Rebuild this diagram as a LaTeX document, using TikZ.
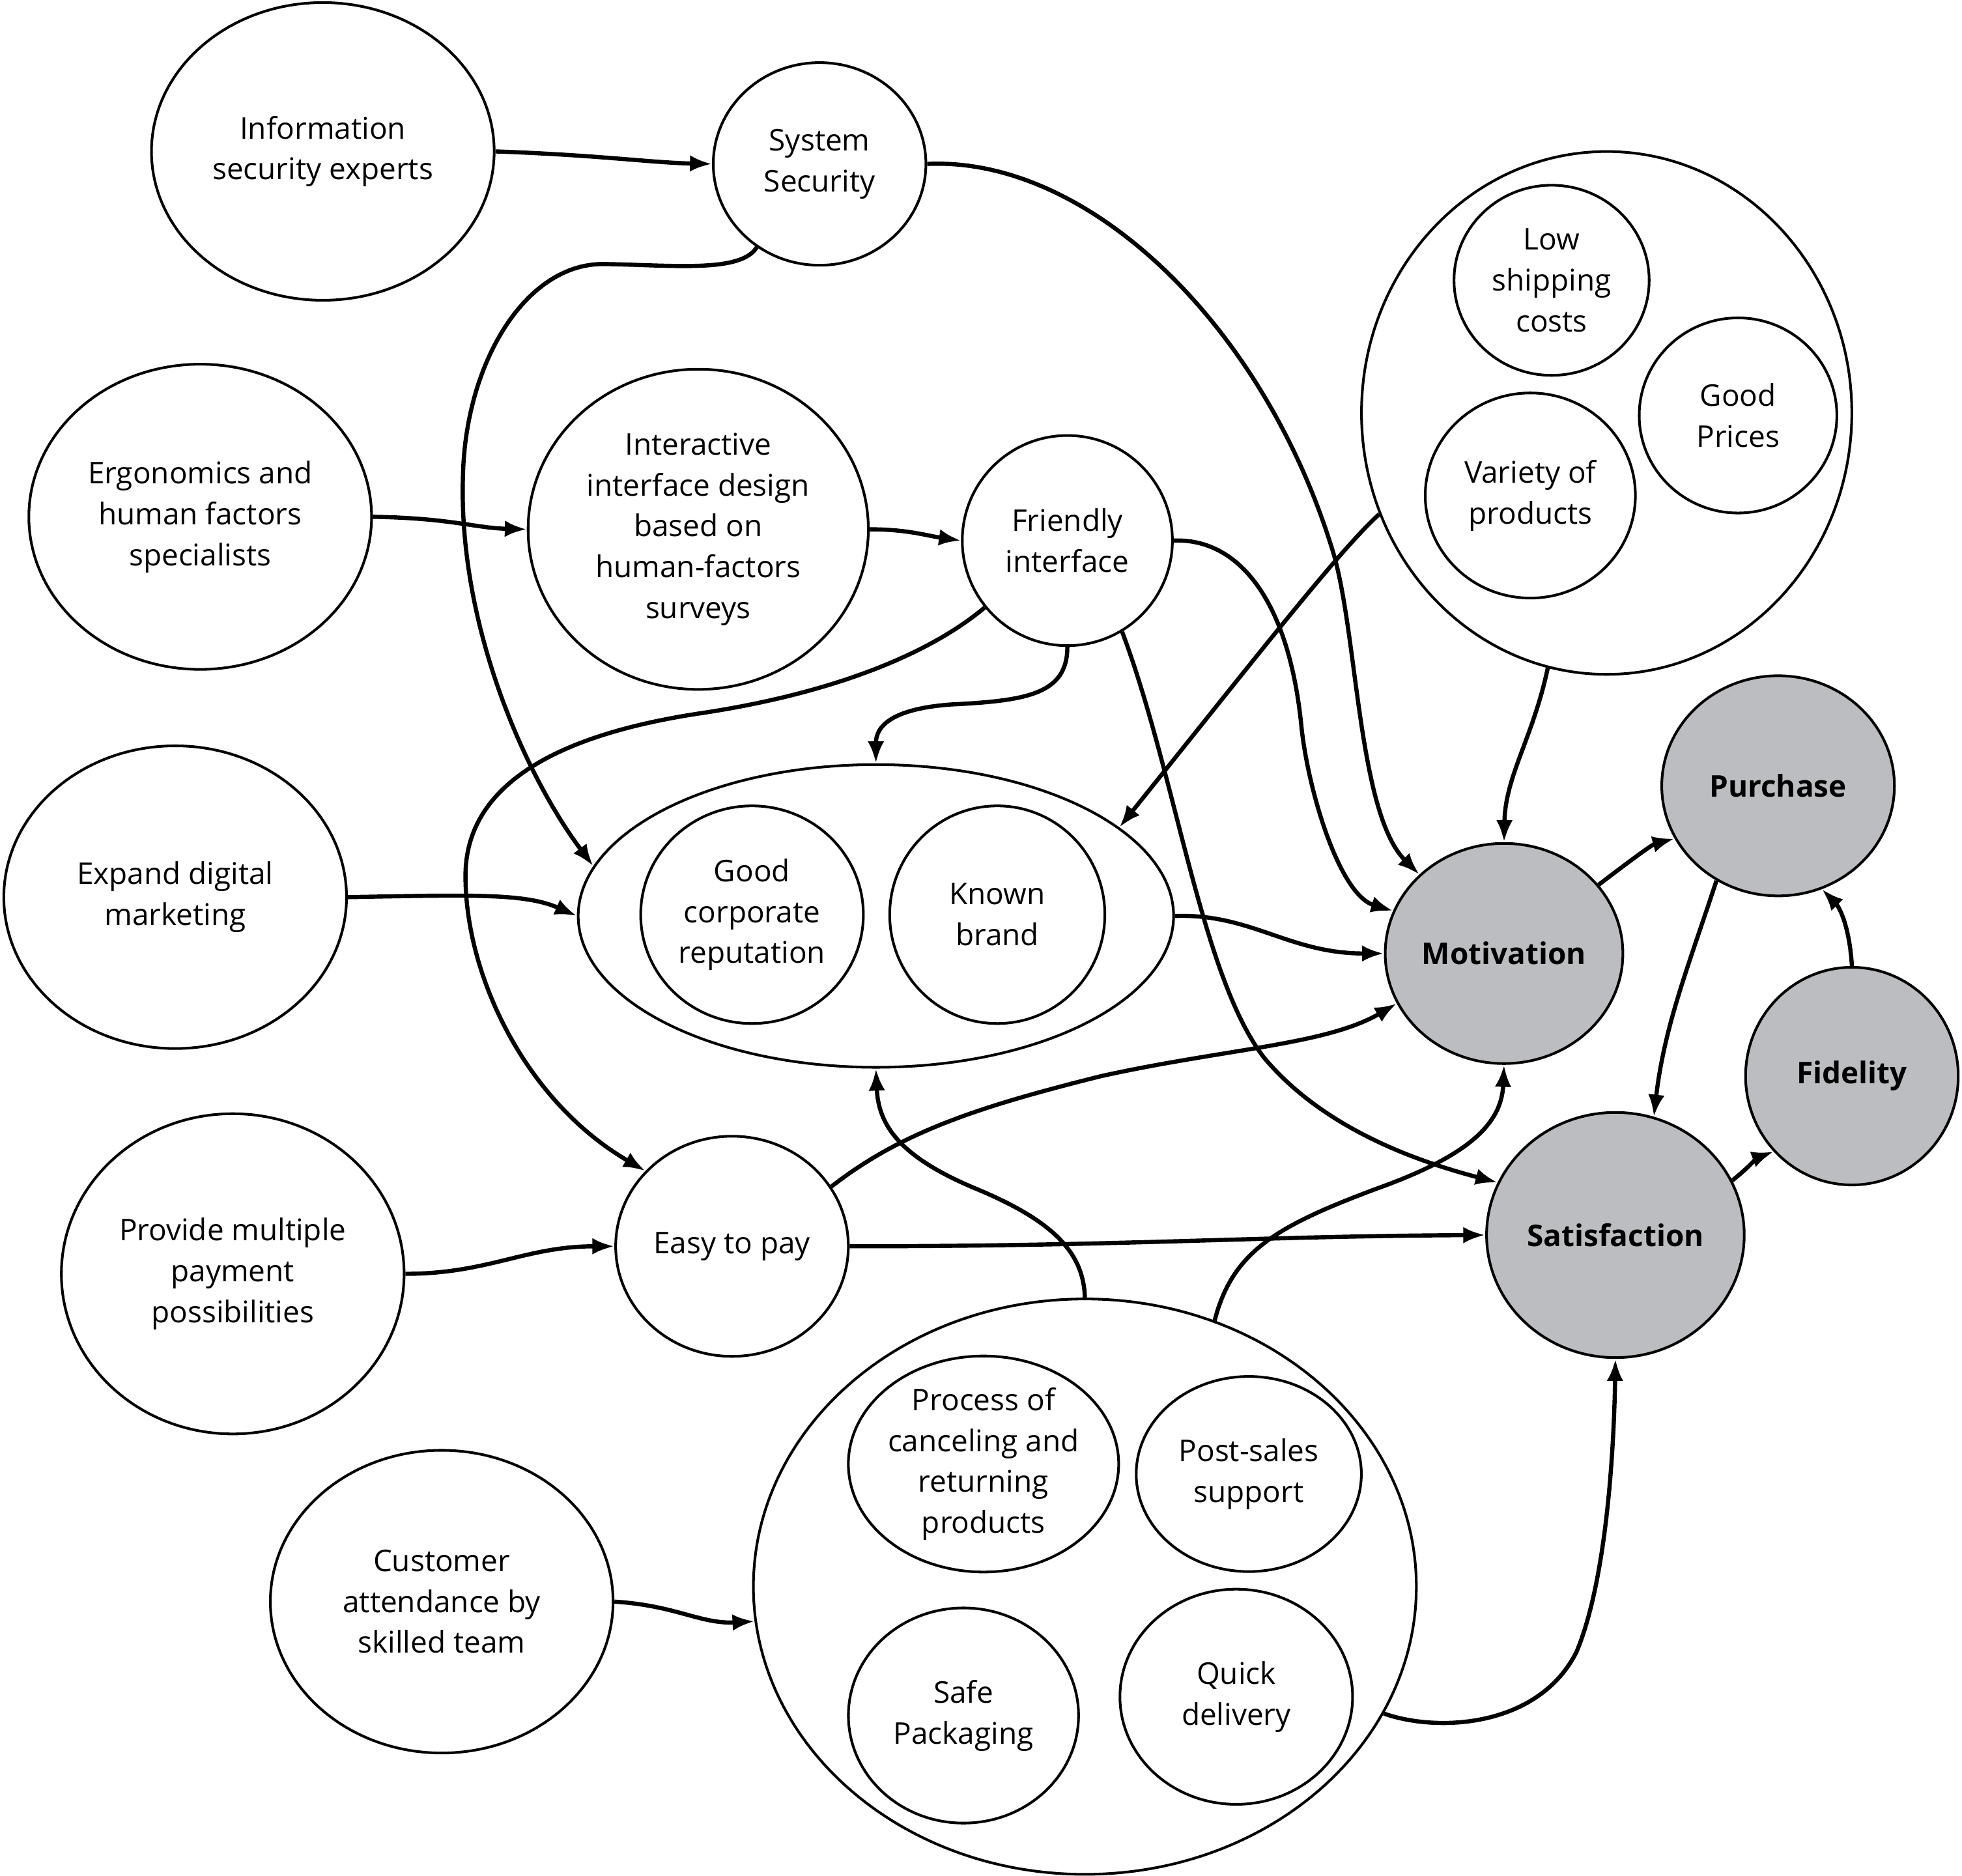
\documentclass[tikz,border=0pt]{standalone}
\usepackage{fontspec}
\setmainfont{Open Sans}
\usetikzlibrary{shapes.geometric,arrows.meta}
\definecolor{nodegray}{RGB}{188,189,192}
\begin{document}
\begin{tikzpicture}[x=0.02cm,y=-0.02cm,
  ell/.style={ellipse, draw=black, line width=1.2pt, inner sep=0pt, align=center, font=\fontsize{13.6}{18.6}\selectfont},
  sz/.style 2 args={minimum width=#1*0.04cm, minimum height=#2*0.04cm},
  key/.style={ell, fill=nodegray, font=\fontsize{13.6}{18.6}\selectfont\bfseries},
  arr/.style={line width=1.9pt, -{Latex[length=10pt,width=7.5pt]}},
]
\useasboundingbox (0,0) rectangle (1568,1499);
% groups
\node[ell, sz={196}{209}] (price) at (1284,330) {};
\node[ell, sz={238}{121}] (brand) at (700,732) {};
\node[ell, sz={265}{230}] (svc) at (867,1268) {};
% nodes
\node[ell, sz={137}{119}] (ise) at (258,121) {Information\\security experts};
\node[ell, sz={85}{81}] (ss) at (655,131) {System\\Security};
\node[ell, sz={137}{122}] (erg) at (160,413) {Ergonomics and\\human factors\\specialists};
\node[ell, sz={136}{128}] (iid) at (558,423) {Interactive\\interface design\\based on\\human-factors\\surveys};
\node[ell, sz={84}{84}] (fri) at (853,432) {Friendly\\interface};
\node[ell, sz={78}{76}] (lsc) at (1240,224) {Low\\shipping\\costs};
\node[ell, sz={79}{78}] (gp) at (1389,332) {Good\\Prices};
\node[ell, sz={84}{82}] (vp) at (1223,396) {Variety of\\products};
\node[ell, sz={137}{121}] (edm) at (140,717) {Expand digital\\marketing};
\node[ell, sz={89}{87}] (gcr) at (601,731) {Good\\corporate\\reputation};
\node[ell, sz={86}{87}] (kb) at (797,731) {Known\\brand};
\node[key, sz={95}{88}] (mot) at (1202,762) {Motivation};
\node[key, sz={93}{88}] (pur) at (1421,628) {Purchase};
\node[key, sz={85}{87}] (fid) at (1480,860) {Fidelity};
\node[key, sz={103}{98}] (sat) at (1291,987) {Satisfaction};
\node[ell, sz={137}{128}] (pmp) at (186,1018) {Provide multiple\\payment\\possibilities};
\node[ell, sz={93}{88}] (etp) at (585,996) {Easy to pay};
\node[ell, sz={137}{121}] (cat) at (353,1280) {Customer\\attendance by\\skilled team};
\node[ell, sz={108}{86}] (proc) at (786,1170) {Process of\\canceling and\\returning\\products};
\node[ell, sz={90}{78}] (pss) at (998,1178) {Post-sales\\support};
\node[ell, sz={92}{86}] (sp) at (770,1371) {Safe\\Packaging};
\node[ell, sz={93}{86}] (qd) at (988,1356) {Quick\\delivery};
% edges
\draw[arr] (ise.east) .. controls (480,124) and (520,130) .. (ss.west);
\draw[arr] (ss.east) .. controls (870,125) and (1010,260) .. (1065,440) .. controls (1085,505) and (1085,650) .. (mot.137);
\draw[arr] (ss.233) .. controls (592,218) and (540,212) .. (483,211) .. controls (420,210) and (372,290) .. (370,380) .. controls (366,500) and (420,620) .. (brand.170);
\draw[arr] (erg.east) .. controls (360,414) and (380,422) .. (iid.west);
\draw[arr] (iid.east) .. controls (725,423) and (740,428) .. (fri.west);
\draw[arr] (edm.east) .. controls (380,715) and (420,714) .. (brand.west);
\draw[arr] (fri.east) .. controls (990,430) and (1030,480) .. (1040,580) .. controls (1045,630) and (1070,715) .. (mot.159);
\draw[arr] (fri.south) .. controls (853,555) and (820,560) .. (760,563) .. controls (705,567) and (700,585) .. (brand.north);
\draw[arr] (fri.219) .. controls (740,525) and (660,555) .. (560,570) .. controls (460,585) and (372,620) .. (372,700) .. controls (372,780) and (420,880) .. (etp.139);
\draw[arr] (price.204) .. controls (1070,440) and (1000,530) .. (brand.20);
\draw[arr] (price.257) .. controls (1225,590) and (1203,620) .. (mot.north);
\draw[arr] (brand.east) .. controls (1000,730) and (1030,762) .. (mot.west);
\draw[arr] (fri.-59) .. controls (940,620) and (960,780) .. (1010,845) .. controls (1060,905) and (1140,930) .. (sat.156);
\draw[arr] (etp.31) .. controls (720,905) and (780,885) .. (880,860) .. controls (980,838) and (1060,835) .. (mot.205);
\draw[arr] (pmp.east) .. controls (390,1018) and (420,996) .. (etp.west);
\draw[arr] (etp.east) .. controls (900,996) and (1000,988) .. (sat.west);
\draw[arr] (svc.north) .. controls (866,1000) and (840,975) .. (780,950) .. controls (720,925) and (702,900) .. (brand.south);
\draw[arr] (svc.64) .. controls (985,1000) and (1020,980) .. (1100,950) .. controls (1170,925) and (1200,900) .. (mot.south);
\draw[arr] (svc.-23) .. controls (1150,1385) and (1230,1380) .. (1260,1320) .. controls (1285,1260) and (1290,1150) .. (sat.south);
\draw[arr] (cat.east) .. controls (540,1283) and (560,1298) .. (svc.186);
\draw[arr] (mot.36) .. controls (1300,690) and (1320,675) .. (pur.207);
\draw[arr] (pur.237) .. controls (1350,770) and (1330,820) .. (sat.72);
\draw[arr] (sat.25) .. controls (1395,935) and (1405,925) .. (fid.224);
\draw[arr] (fid.north) .. controls (1478,740) and (1470,725) .. (pur.-67);
\end{tikzpicture}
\end{document}
